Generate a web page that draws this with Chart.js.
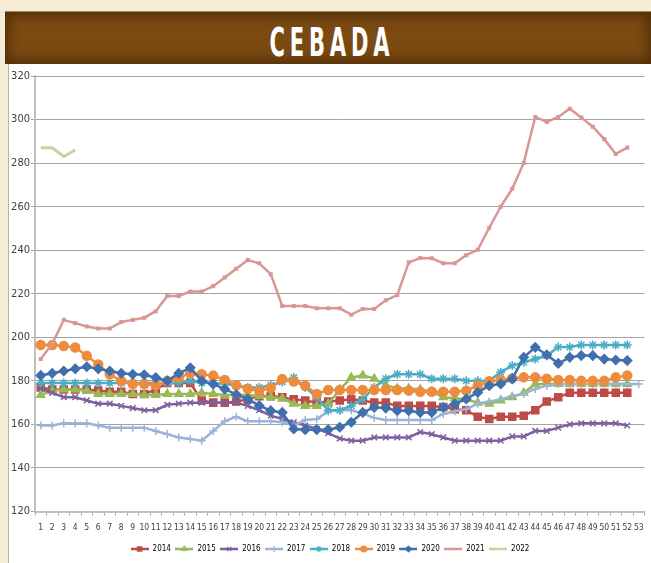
<!DOCTYPE html>
<html>
<head>
<meta charset="utf-8">
<title>Cebada</title>
<script src="https://cdn.jsdelivr.net/npm/chart.js@4.4.1/dist/chart.umd.min.js"></script>
<style>
  html, body { margin: 0; padding: 0; }
  body {
    width: 651px; height: 563px; overflow: hidden; position: relative;
    background: #f6ebd4;
    font-family: 'Liberation Sans Narrow', 'DejaVu Sans Condensed', sans-serif;
  }
  #banner {
    position: absolute; left: 5px; top: 11px; width: 646px; height: 53px;
    box-sizing: border-box;
    background: #7b4a12;
    border-top: 1px solid #a08a62;
    box-shadow: inset 0 0 12px 4px rgba(50, 25, 0, 0.55);
    text-align: center;
  }
  #banner span {
    display: inline-block;
    color: #fff;
    font-size: 39px;
    font-weight: bold;
    line-height: 53px;
    padding-top: 4px;
    letter-spacing: 8px;
    margin-right: -8px;
    transform: scaleX(0.6);
  }
  #panel {
    position: absolute; left: 8px; top: 64px; width: 643px; height: 499px;
    background: #fff; border-left: 1px solid #bdb39c;
  }
  #chart { position: absolute; left: 0; top: 0; }
</style>
</head>
<body>
<div id="banner"><span>CEBADA</span></div>
<div id="panel"><canvas id="chart" width="642" height="499"></canvas></div>

<script>
// ===================== Data =====================
const weeks = ["1","2","3","4","5","6","7","8","9","10","11","12","13","14","15","16","17","18",
  "19","20","21","22","23","24","25","26","27","28","29","30","31","32","33","34","35","36",
  "37","38","39","40","41","42","43","44","45","46","47","48","49","50","51","52","53"];

const y2014 = [177, 176, 176, 176, 176, 175.5, 175, 175, 174, 174, 176, 179, 179, 179, 171, 170,
  170, 170.5, 171.5, 173, 173, 172.5, 171.5, 171, 170, 170.5, 171, 171.5, 171, 170, 170, 168.5,
  168.5, 168.5, 168.5, 168, 167, 166.5, 163.5, 162.5, 163.5, 163.5, 164, 166.5, 170.5, 172.5,
  174.5, 174.5, 174.5, 174.5, 174.5, 174.5];
const y2015 = [173.5, 175.5, 176, 176, 175.5, 174, 174, 174, 174, 173.5, 173.5, 174, 174, 174,
  174.5, 174, 173.5, 173.5, 173.5, 173, 172.5, 172, 169.5, 168.5, 168.5, 169.5, 176, 181.5, 182.5,
  181, 178, 176.5, 176.5, 176, 175, 172.5, 172, 171.5, 170, 169.5, 171, 172.5, 174.5, 178.5,
  178.5, 178.5, 178.5, 178.5, 178.5, 178.5, 178.5, 178.5];
const y2016 = [176.5, 174.5, 172.5, 172.5, 171, 169.5, 169.5, 168.5, 167.5, 166.5, 166.5, 169,
  169.5, 170, 170, 170, 170, 170, 168.5, 166.5, 164, 162.5, 161, 159.5, 158, 156, 153.5, 152.5,
  152.5, 154, 154, 154, 154, 156.5, 155.5, 154, 152.5, 152.5, 152.5, 152.5, 152.5, 154.5, 154.5,
  157, 157, 158.5, 160, 160.5, 160.5, 160.5, 160.5, 159.5];
const y2017 = [159.5, 159.5, 160.5, 160.5, 160.5, 159.5, 158.5, 158.5, 158.5, 158.5, 157, 155.5,
  154, 153.3, 152.5, 157, 161.5, 163.5, 161.5, 161.5, 161.5, 161, 159.5, 162, 162.5, 166, 166.5,
  166.5, 165, 163, 162, 162, 162, 162, 162, 164.8, 166, 167, 169.5, 170.5, 171.5, 173, 174, 176.3,
  177.8, 178.5, 178.5, 178.5, 178.5, 178.5, 178.5, 178.5, 178.5];
const y2018 = [179, 179, 179, 179, 179, 179, 179, 179, 179, 179, 179, 179, 179, 180, 179, 179,
  178.5, 178, 177, 177, 178, 179.5, 181.5, 177, 172.5, 166.5, 166.5, 168.5, 171.5, 177, 181, 183,
  183, 183, 181, 181, 181, 180, 180, 180, 184, 187, 188.5, 190, 191.5, 195.5, 195.5, 196.5, 196.5,
  196.5, 196.5, 196.5];
const y2019 = [196.5, 196.5, 196, 195.3, 191.5, 187.5, 183, 180, 178.5, 178.5, 178, 180, 181.5,
  183.5, 183, 182.4, 180.4, 178, 176.3, 175.5, 176.7, 180.8, 179.7, 177.8, 174, 175.8, 175.8,
  175.8, 175.8, 175.8, 175.8, 175.8, 175.5, 175, 175, 175, 175, 175.5, 177.8, 179.8, 180.4, 181.2,
  181.6, 181.6, 181, 180.4, 180.4, 180, 180, 180, 181.6, 182.4];
const y2020 = [182.5, 183.5, 184.5, 185.5, 186.5, 185.5, 184.5, 183.5, 183, 182.8, 181.5, 180,
  183.5, 186, 180, 178.5, 176.3, 173.7, 171.7, 168.6, 166.3, 165.5, 157.9, 157.6, 157.6, 157.6,
  158.7, 161, 165.5, 167.8, 167.5, 166.3, 166.3, 165.5, 165.5, 167.8, 169.4, 171.7, 174.7, 177.8,
  178.6, 180.9, 190.8, 195.4, 192, 188, 190.8, 191.6, 191.6, 190, 189.6, 189.3];
const y2021 = [190, 197, 208, 206.5, 205, 204, 204, 207, 208, 209, 212, 219, 219, 221, 221, 223.5,
  227.5, 231.5, 235.5, 234, 229, 214.4, 214.4, 214.4, 213.3, 213.3, 213.3, 210.4, 213, 213, 217,
  219.4, 234.4, 236.4, 236.3, 234, 234, 237.7, 240.2, 250.3, 260, 268.2, 280.1, 301.2, 298.9,
  301.2, 305, 300.9, 296.7, 291, 284.2, 287.1];
const y2022 = [287, 287, 283, 286];

const yTicks = [120, 140, 160, 180, 200, 220, 240, 260, 280, 300, 320];

// ===================== Styles =====================
const FONT = "'Liberation Sans Narrow', 'DejaVu Sans Condensed', sans-serif";

function series(label, data, color, style, radius, lineWidth, order) {
  return {
    label, data,
    borderColor: color, backgroundColor: color,
    borderWidth: lineWidth,
    pointStyle: style, pointRadius: radius, pointHoverRadius: radius,
    pointBorderWidth: 1.5,
    tension: 0, fill: false, order
  };
}

const datasets = [
  series("2014", y2014, "#be4b48", "rect", 5, 2.5, 9),
  series("2015", y2015, "#98b954", "triangle", 4.5, 2.5, 8),
  series("2016", y2016, "#7d60a0", "crossRot", 4, 2.5, 7),
  series("2017", y2017, "#98b4d8", "cross", 4, 2.5, 6),
  series("2018", y2018, "#4aacc5", "star", 4.5, 2.5, 5),
  series("2019", y2019, "#ee8c3e", "circle", 4.5, 2.5, 4),
  series("2020", y2020, "#3f70ad", "rectRot", 4.5, 2.5, 3),
  series("2021", y2021, "#d99694", "rect", 1.8, 2.5, 2),
  series("2022", y2022, "#c3d69b", "rect", 0, 3, 1)
];

// small line+marker icons for the legend
function legendIcon(ds) {
  const c = document.createElement("canvas");
  c.width = 18; c.height = 10;
  const g = c.getContext("2d");
  g.strokeStyle = ds.borderColor; g.fillStyle = ds.borderColor;
  g.lineWidth = 2.5;
  g.beginPath(); g.moveTo(0, 5); g.lineTo(18, 5); g.stroke();
  if (ds.pointRadius > 0 && ds.label !== "2021") {
    g.lineWidth = 1.2;
    Chart.helpers.drawPoint(g, { pointStyle: ds.pointStyle, radius: 3, rotation: 0, borderWidth: 1.2 }, 9, 5);
  }
  return c;
}
const icons = datasets.map(legendIcon);

// ===================== Chart =====================
new Chart(document.getElementById("chart"), {
  type: "line",
  data: { labels: weeks, datasets },
  options: {
    responsive: false,
    devicePixelRatio: 1,
    animation: false,
    layout: { padding: { top: 12, right: 0, bottom: 0, left: 0 } },
    plugins: {
      title: { display: false },
      tooltip: { enabled: false },
      legend: {
        position: "bottom",
        labels: {
          usePointStyle: true,
          pointStyleWidth: 18,
          padding: 4.5,
          color: "#404040",
          font: { family: FONT, size: 8 },
          generateLabels: (chart) => chart.data.datasets.map((ds, i) => ({
            text: ds.label, datasetIndex: i, pointStyle: icons[i],
            fillStyle: "transparent", strokeStyle: "transparent", lineWidth: 0, hidden: false
          }))
        }
      }
    },
    scales: {
      x: {
        type: "category",
        offset: true,
        grid: { offset: true, drawOnChartArea: false, drawTicks: true, tickLength: 4, color: "#a6a6a6" },
        border: { color: "#bfbfbf", width: 2 },
        ticks: { autoSkip: false, maxRotation: 0, minRotation: 0, padding: 7, color: "#404040",
          font: { family: FONT, size: 8.5 } },
        afterFit: (s) => { s.height = 29; }
      },
      y: {
        min: 120, max: 320,
        afterBuildTicks: (s) => { s.ticks = yTicks.map(v => ({ value: v })); },
        grid: { color: "#a3a3a3", lineWidth: 1, tickLength: 4 },
        border: { color: "#bfbfbf", width: 2 },
        ticks: { padding: 1, color: "#404040", font: { family: FONT, size: 11 } },
        afterFit: (s) => { s.width = 26; }
      }
    }
  }
});
</script>
</body>
</html>
